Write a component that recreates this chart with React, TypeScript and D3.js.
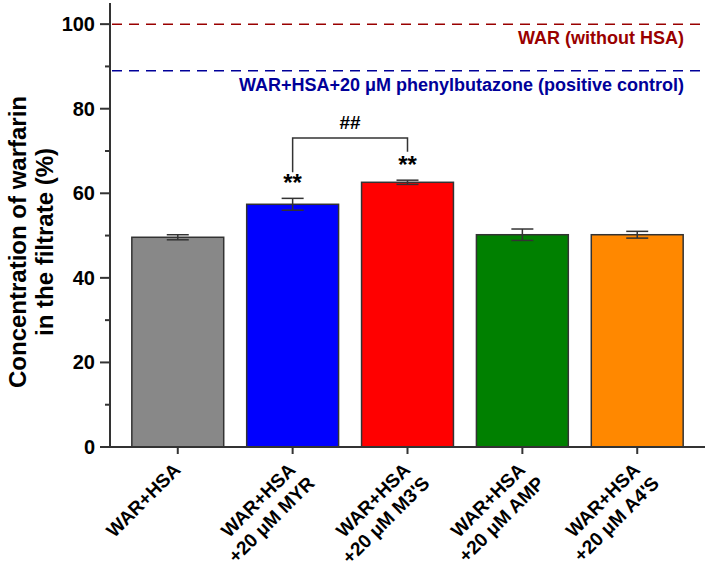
import React from 'react';
import * as d3 from 'd3';

// Values
const groups = ['WAR+HSA', 'MYR', "M3'S", 'AMP', "A4'S"];
const labelLines = [
  ['WAR+HSA'],
  ['WAR+HSA', '+20 μM MYR'],
  ['WAR+HSA', "+20 μM M3'S"],
  ['WAR+HSA', '+20 μM AMP'],
  ['WAR+HSA', "+20 μM A4'S"],
];
const means = [49.6, 57.4, 62.6, 50.2, 50.2];
const errors = [0.6, 1.4, 0.5, 1.35, 0.8];
const colors = ['#888888', '#0000ff', '#ff0000', '#008000', '#ff8800'];
const stars = ['', '**', '**', '', ''];
const yTicks = [0, 20, 40, 60, 80, 100];
const yMinorTicks = [10, 30, 50, 70, 90];
const refLines = [
  { value: 100, color: '#990000', text: 'WAR (without HSA)' },
  { value: 89, color: '#000099', text: 'WAR+HSA+20 μM phenylbutazone (positive control)' },
];
const bracket = { from: 1, to: 2, top: 73.1, leftEnd: 65, rightEnd: 69.8, text: '##' };

const W = 709;
const H = 570;
const FONT = '"Liberation Sans", Arial, sans-serif';
const INK = '#333333';

export default function App() {
  const x = d3.scaleBand<string>().domain(groups).range([110, 705]).paddingInner(0.2).paddingOuter(0.19);
  const y = d3.scaleLinear().domain([0, 105]).range([447, 3]);
  const bw = x.bandwidth();
  const cx = (i: number) => (x(groups[i]) as number) + bw / 2;

  return (
    <svg width={W} height={H} style={{ position: 'absolute', left: 0, top: 0, background: '#fff' }} fontFamily={FONT}>
      {/* reference lines */}
      {refLines.map((r, i) => (
        <g key={i}>
          <line x1={112} x2={705} y1={y(r.value)} y2={y(r.value)} stroke={r.color} strokeWidth={1.5} strokeDasharray="10,7" />
          <text x={684} y={y(r.value) + 20} textAnchor="end" fontSize={18} fontWeight="bold" fill={r.color}>{r.text}</text>
        </g>
      ))}

      {/* bars */}
      {groups.map((g, i) => (
        <rect key={g} x={x(g)} y={y(means[i])} width={bw} height={y(0) - y(means[i])} fill={colors[i]} stroke={INK} strokeWidth={1.5} />
      ))}

      {/* error bars */}
      {groups.map((g, i) => {
        const c = cx(i);
        const hi = y(means[i] + errors[i]);
        const lo = y(means[i] - errors[i]);
        return (
          <g key={g} stroke={INK} strokeWidth={1.5}>
            <line x1={c} x2={c} y1={hi} y2={lo} />
            <line x1={c - 11} x2={c + 11} y1={hi} y2={hi} />
            <line x1={c - 11} x2={c + 11} y1={lo} y2={lo} />
          </g>
        );
      })}

      {/* significance stars */}
      {groups.map((g, i) =>
        stars[i] ? (
          <text key={g} x={cx(i)} y={y(means[i] + errors[i]) - 7} textAnchor="middle" fontSize={24} fontWeight="bold" fill="#000">{stars[i]}</text>
        ) : null
      )}

      {/* bracket */}
      <path
        d={`M${cx(bracket.from)},${y(bracket.leftEnd)}V${y(bracket.top)}H${cx(bracket.to)}V${y(bracket.rightEnd)}`}
        fill="none"
        stroke={INK}
        strokeWidth={1.5}
      />
      <text x={(cx(bracket.from) + cx(bracket.to)) / 2} y={y(bracket.top) - 9} textAnchor="middle" fontSize={19} fontWeight="bold" fill="#000">{bracket.text}</text>

      {/* y axis */}
      <line x1={110} x2={110} y1={y(105)} y2={y(0)} stroke={INK} strokeWidth={2} />
      {yTicks.map((t) => (
        <g key={t}>
          <line x1={100} x2={110} y1={y(t)} y2={y(t)} stroke={INK} strokeWidth={2} />
          <text x={95} y={y(t) + 7} textAnchor="end" fontSize={20} fontWeight="bold" fill="#000">{t}</text>
        </g>
      ))}
      {yMinorTicks.map((t) => (
        <line key={t} x1={105} x2={110} y1={y(t)} y2={y(t)} stroke={INK} strokeWidth={2} />
      ))}

      {/* x axis */}
      <line x1={109} x2={705} y1={y(0)} y2={y(0)} stroke={INK} strokeWidth={2} />
      {groups.map((g, i) => (
        <g key={g}>
          <line x1={cx(i)} x2={cx(i)} y1={y(0)} y2={y(0) + 7} stroke={INK} strokeWidth={2} />
          <text transform={`translate(${cx(i) + 4},${y(0) + 24}) rotate(-45)`} textAnchor="end" fontSize={19} fontWeight="bold" fill="#000">
            {labelLines[i].map((l, k) => (
              <tspan key={k} x={k * 4} y={k * 23}>{l}</tspan>
            ))}
          </text>
        </g>
      ))}

      {/* y axis title */}
      <text transform={`translate(26,242) rotate(-90)`} textAnchor="middle" fontSize={24} fontWeight="bold" fill="#000">
        <tspan x={0} y={0}>Concentration of warfarin</tspan>
        <tspan x={0} y={27}>in the filtrate (%)</tspan>
      </text>
    </svg>
  );
}
